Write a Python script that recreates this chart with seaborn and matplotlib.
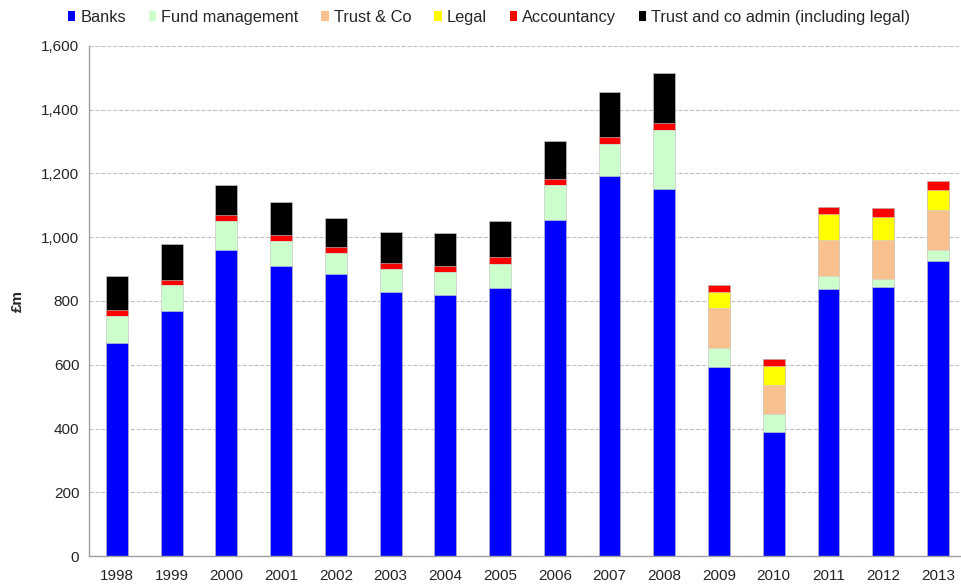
import pandas as pd
import matplotlib.pyplot as plt
import seaborn as sns
from matplotlib.patches import Patch
from matplotlib.ticker import FuncFormatter

years = ['1998', '1999', '2000', '2001', '2002', '2003', '2004', '2005',
         '2006', '2007', '2008', '2009', '2010', '2011', '2012', '2013']

# values in £m
banks = [669, 768, 961, 910, 884, 827, 820, 840, 1055, 1193, 1150, 592, 390, 837, 845, 926]
fund_mgmt = [85, 81, 91, 77, 68, 74, 72, 77, 108, 99, 185, 60, 55, 41, 25, 34]
trust_co = [0, 0, 0, 0, 0, 0, 0, 0, 0, 0, 0, 125, 91, 113, 121, 125]
legal = [0, 0, 0, 0, 0, 0, 0, 0, 0, 0, 0, 50, 59, 82, 74, 64]
accountancy = [18, 17, 18, 21, 17, 18, 18, 22, 19, 22, 23, 22, 22, 22, 26, 27]
trust_admin = [107, 113, 93, 104, 90, 99, 102, 112, 119, 141, 158, 0, 0, 0, 0, 0]

labels = ['Banks', 'Fund management', 'Trust & Co', 'Legal', 'Accountancy',
          'Trust and co admin (including legal)']
colors = ['#0000FF', '#CCFFCC', '#F9C090', '#FFFF00', '#FF0000', '#000000']

df = pd.DataFrame({'year': years, labels[0]: banks, labels[1]: fund_mgmt,
                   labels[2]: trust_co, labels[3]: legal, labels[4]: accountancy,
                   labels[5]: trust_admin})

# cumulative sums so each layer can be drawn as a full bar, top layer first
cum = df[labels].cumsum(axis=1)
cum['year'] = df['year']

sns.set_style('white')
plt.rcParams['font.family'] = ['Liberation Sans', 'DejaVu Sans']

fig = plt.figure(figsize=(9.62, 5.88), dpi=100)
ax = fig.add_axes([0.0925, 0.0544, 0.9075, 0.8674])

for lab, col in reversed(list(zip(labels, colors))):
    sns.barplot(data=cum, x='year', y=lab, color=col, width=0.4,
                saturation=1, edgecolor='#d0d0d0', linewidth=0.4, ax=ax)

ax.set_ylim(0, 1600)
ax.set_xlim(-0.51, 15.44)
ax.set_yticks(range(0, 1601, 200))
ax.yaxis.set_major_formatter(FuncFormatter(lambda v, p: f'{int(v):,}'))
ax.set_axisbelow(True)
ax.yaxis.grid(True, color='#c0c0c0', linestyle='--', linewidth=0.8)
ax.set_xlabel('')
ax.set_ylabel('£m', fontsize=11, fontweight='bold', labelpad=12)

for s in ['top', 'right']:
    ax.spines[s].set_visible(False)
for s in ['left', 'bottom']:
    ax.spines[s].set_color('#a0a0a0')
    ax.spines[s].set_linewidth(1.0)

ax.tick_params(axis='y', length=3, color='#a0a0a0', labelsize=11, pad=4)
ax.tick_params(axis='x', length=0, labelsize=11, pad=9)

handles = [Patch(facecolor=c, edgecolor='none') for c in colors]
fig.legend(handles, labels, loc='upper center', bbox_to_anchor=(0.5083, 1.008),
           ncol=6, frameon=False, fontsize=11.8, handlelength=0.45,
           handleheight=0.55, handletextpad=0.3, columnspacing=1.4)

fig.savefig('out.png', dpi=100)
